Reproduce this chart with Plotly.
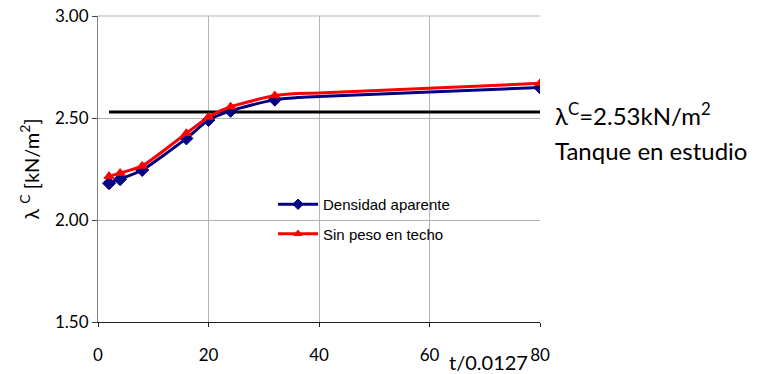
import plotly.graph_objects as go

x_vals = [2, 4, 8, 16, 20, 24, 32, 36, 40, 80]
densidad = [2.18, 2.20, 2.245, 2.40, 2.49, 2.535, 2.59, 2.60, 2.605, 2.65]
sin_peso = [2.215, 2.23, 2.265, 2.425, 2.505, 2.555, 2.61, 2.62, 2.622, 2.67]
marker_sizes = [10, 10, 10, 10, 10, 10, 10, 0, 0, 10]
ref_x = [2, 80]
ref_y = [2.53, 2.53]
x_ticks = [0, 20, 40, 60, 80]
y_ticks = [1.5, 2.0, 2.5, 3.0]
y_tick_labels = ["1.50", "2.00", "2.50", "3.00"]

FONT = "Lato, Open Sans, sans-serif"

fig = go.Figure()
fig.add_trace(go.Scatter(x=ref_x, y=ref_y, mode="lines", line=dict(color="black", width=3),
                         showlegend=False, hoverinfo="skip"))
fig.add_trace(go.Scatter(x=x_vals, y=densidad, mode="lines+markers", name="Densidad aparente",
                         legendgroup="a",
                         line=dict(color="#000080", width=3, shape="spline", smoothing=0.6),
                         marker=dict(symbol="diamond", size=marker_sizes, color="#000080", opacity=1,
                                     line=dict(color="#000080", width=1))))
fig.add_trace(go.Scatter(x=x_vals, y=sin_peso, mode="lines+markers", name="Sin peso en techo",
                         legendgroup="b",
                         line=dict(color="#FF0000", width=3, shape="spline", smoothing=0.6),
                         marker=dict(symbol="triangle-up", size=[s - 1 if s else 0 for s in marker_sizes],
                                     color="#FF0000", opacity=1, line=dict(color="#FF0000", width=1))))

fig.update_layout(
    width=749, height=366,
    margin=dict(l=90, r=217, t=8, b=52, autoexpand=False),
    plot_bgcolor="white", paper_bgcolor="white",
    font=dict(family=FONT, size=17, color="black"),
    legend=dict(x=0.396, y=0.438, xanchor="left", yanchor="top", itemwidth=40,
                font=dict(family="Liberation Sans, Arial", size=15, color="black"),
                bgcolor="rgba(0,0,0,0)", tracegroupgap=7),
    xaxis=dict(range=[0, 80], tickvals=x_ticks, showgrid=True, gridcolor="#B4B4B4", gridwidth=1,
               showline=True, linecolor="#202020", linewidth=1, ticks="outside", ticklen=4,
               tickcolor="#202020", ticklabelstandoff=14, zeroline=False, automargin=False,
               tickfont=dict(family=FONT, size=17)),
    yaxis=dict(range=[1.5, 3.0], tickvals=y_ticks, ticktext=y_tick_labels, showgrid=True,
               gridcolor="#B4B4B4", gridwidth=1, showline=True, linecolor="#808080", linewidth=1,
               ticks="outside", ticklen=5, tickcolor="#404040", zeroline=False, automargin=False,
               ticklabeloverflow="allow",
               tickfont=dict(family=FONT, size=17),
               title=dict(text="λ <sup>C</sup> [kN/m<sup>2</sup>]", standoff=10,
                          font=dict(family=FONT, size=20))),
)

fig.add_shape(type="line", xref="paper", yref="paper", x0=0, x1=1, y0=1, y1=1,
              line=dict(color="#B4B4B4", width=1))

fig.add_annotation(text="t/0.0127", xref="paper", yref="paper", x=0.883, y=-0.085,
                   xanchor="center", yanchor="top", showarrow=False,
                   font=dict(family=FONT, size=20))
fig.add_annotation(text="λ<sup>C</sup>=2.53kN/m<sup>2</sup>", xref="paper", yref="paper",
                   x=1.03, y=0.68, xanchor="left", yanchor="middle", showarrow=False,
                   font=dict(family=FONT, size=24))
fig.add_annotation(text="Tanque en estudio", xref="paper", yref="paper",
                   x=1.03, y=0.56, xanchor="left", yanchor="middle", showarrow=False,
                   font=dict(family=FONT, size=24))

fig.write_html("out.html")
